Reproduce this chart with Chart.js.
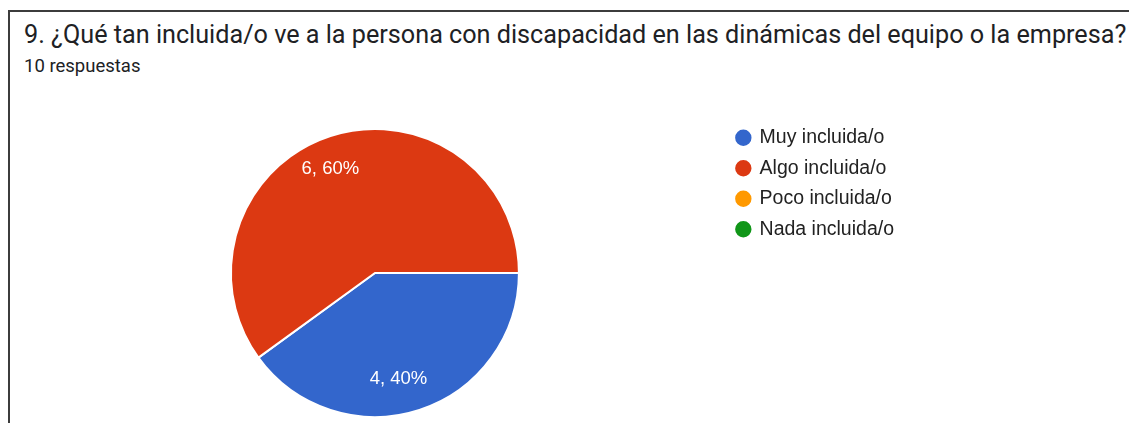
<!DOCTYPE html>
<html>
<head>
<meta charset="utf-8">
<script src="https://cdn.jsdelivr.net/npm/chart.js@4"></script>
<style>
  html, body { margin: 0; padding: 0; background: #fff; overflow: hidden; }
  #frame {
    position: absolute; left: 8px; top: 10px; width: 1200px; height: 500px;
    border-left: 2px solid #3c3c3c; border-top: 2px solid #3c3c3c;
  }
  .txt { position: absolute; left: 24px; font-family: Roboto, sans-serif; color: #202124; line-height: 1; white-space: nowrap; }
  #title { top: 22px; font-size: 25.2px; }
  #subtitle { top: 57px; font-size: 18.5px; }
  #wrap { position: absolute; left: 0; top: 0; width: 1129px; height: 440px; }
</style>
</head>
<body>
<div id="frame"></div>
<div id="title" class="txt"></div>
<div id="subtitle" class="txt"></div>
<div id="wrap"><canvas id="pieChart"></canvas></div>
<script>
const titleText = '9. ¿Qué tan incluida/o ve a la persona con discapacidad en las dinámicas del equipo o la empresa?';
const subtitleText = '10 respuestas';
const categories = ['Muy incluida/o', 'Algo incluida/o', 'Poco incluida/o', 'Nada incluida/o'];
const responses = [4, 6, 0, 0];
const sliceColors = ['#3366cc', '#dc3912', '#ff9900', '#109618'];

document.getElementById('title').textContent = titleText;
document.getElementById('subtitle').textContent = subtitleText;

// white "n, pct%" labels inside the slices
const sliceLabels = {
    id: 'sliceLabels',
    afterDatasetsDraw(chart) {
        const ctx = chart.ctx;
        const data = chart.data.datasets[0].data;
        const total = data.reduce((a, b) => a + b, 0);
        chart.getDatasetMeta(0).data.forEach((arc, i) => {
            if (!data[i]) return;
            const mid = (arc.startAngle + arc.endAngle) / 2;
            const r = arc.outerRadius * 0.765;
            const x = arc.x + Math.cos(mid) * r - 10.5;
            const y = arc.y + Math.sin(mid) * r + 1;
            ctx.save();
            ctx.fillStyle = '#ffffff';
            ctx.font = '18.5px "Liberation Sans", Arial';
            ctx.textAlign = 'center';
            ctx.textBaseline = 'middle';
            ctx.fillText(data[i] + ', ' + Math.round(data[i] / total * 100) + '%', x, y);
            ctx.restore();
        });
    }
};

const ctx = document.getElementById('pieChart').getContext('2d');
const pieChart = new Chart(ctx, {
    type: 'pie',
    data: {
        labels: categories,
        datasets: [{
            data: responses,
            backgroundColor: sliceColors,
            borderColor: '#ffffff',
            borderWidth: 2,
            radius: 144
        }]
    },
    options: {
        responsive: true,
        maintainAspectRatio: false,
        animation: false,
        rotation: 90,
        layout: { padding: { top: 117, left: 24, right: 225, bottom: 11 } },
        plugins: {
            tooltip: { enabled: false },
            legend: {
                position: 'right',
                align: 'start',
                fullSize: false,
                labels: {
                    usePointStyle: true,
                    pointStyle: 'circle',
                    boxWidth: 13,
                    boxHeight: 13,
                    padding: 11,
                    color: '#222222',
                    font: { family: '"Liberation Sans", Arial', size: 19.5 }
                }
            }
        }
    },
    plugins: [sliceLabels]
});
</script>
</body>
</html>
